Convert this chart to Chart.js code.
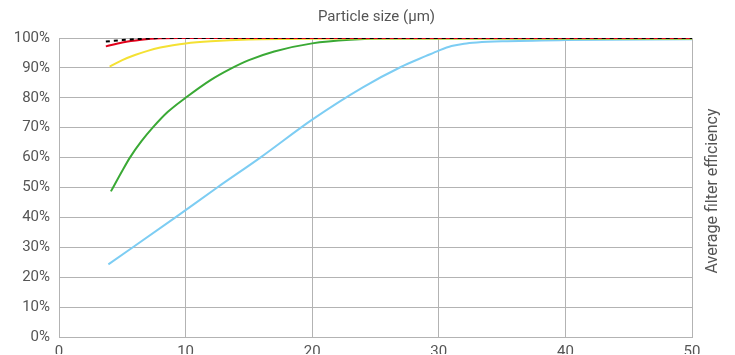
<!DOCTYPE html>
<html>
<head>
<meta charset="utf-8">
<script src="https://cdn.jsdelivr.net/npm/chart.js@4"></script>
<style>
  html, body { margin: 0; padding: 0; background: #fff; overflow: hidden; }
  #wrap { width: 735px; height: 355px; }
</style>
</head>
<body>
<div id="wrap"><canvas id="myChart"></canvas></div>
<script>
const xTitle = 'Particle size (µm)';
const yTitle = 'Average filter efficiency';

// each series as [particle size, efficiency %]
const blackX = [3.7, 5, 6.5, 8, 50];
const blackY = [98.8, 99.3, 99.7, 100, 100];
const redX = [3.7, 5, 6.5, 8, 9.5, 50];
const redY = [97.2, 98.5, 99.4, 99.9, 100, 100];
const yellowX = [4, 5, 6, 7, 8, 9, 10, 12, 15, 18, 22, 50];
const yellowY = [90.4, 92.6, 94.3, 95.7, 96.8, 97.6, 98.2, 98.9, 99.5, 99.7, 99.8, 99.8];
const greenX = [4.1, 5, 5.6, 6.5, 7.4, 8.6, 10, 12, 13.5, 15, 17, 20, 23, 26, 50];
const greenY = [48.7, 55.6, 60, 65.4, 70, 75.3, 80, 86, 89.6, 92.6, 95.5, 98.2, 99.4, 99.8, 99.8];
const blueX = [3.9, 9.2, 12.5, 15.9, 20, 24, 27, 29, 30, 31, 32, 33, 35, 40, 50];
const blueY = [24.3, 40, 50, 60, 72.7, 83.5, 90.3, 94, 95.8, 97.3, 98.1, 98.5, 98.9, 99.3, 99.6];

const xTicks = [0, 10, 20, 30, 40, 50];

function pts(xs, ys) {
  return xs.map((x, i) => ({ x: x, y: ys[i] }));
}

const titles = {
  id: 'titles',
  afterDraw(chart) {
    const c = chart.ctx;
    const a = chart.chartArea;
    c.save();
    c.fillStyle = '#555';
    c.font = '15px Roboto';
    c.textAlign = 'center';
    c.textBaseline = 'middle';
    c.fillText(xTitle, (a.left + a.right) / 2 + 1, 17);
    c.translate(713, 191);
    c.rotate(-Math.PI / 2);
    c.font = '16px Roboto';
    c.fillText(yTitle, 0, 0);
    c.restore();
  }
};

const ctx = document.getElementById('myChart').getContext('2d');
const myChart = new Chart(ctx, {
  type: 'line',
  data: {
    datasets: [
      { data: pts(blackX, blackY), borderColor: '#000', borderDash: [4, 4], borderWidth: 2 },
      { data: pts(redX, redY), borderColor: '#e1001a', borderWidth: 2 },
      { data: pts(yellowX, yellowY), borderColor: '#f4e133', borderWidth: 2 },
      { data: pts(greenX, greenY), borderColor: '#3aa935', borderWidth: 2 },
      { data: pts(blueX, blueY), borderColor: '#7dcdf3', borderWidth: 2 },
    ],
  },
  options: {
    responsive: true,
    maintainAspectRatio: false,
    animation: false,
    layout: { padding: { top: 38, right: 43 } },
    elements: {
      point: { radius: 0 },
      line: { cubicInterpolationMode: 'monotone', fill: false },
    },
    plugins: { legend: { display: false }, tooltip: { enabled: false } },
    scales: {
      x: {
        type: 'linear',
        min: 0,
        max: 50,
        afterBuildTicks: (s) => { s.ticks = xTicks.map((v) => ({ value: v })); },
        afterFit: (s) => { s.height = 17; },
        grid: { color: '#b3b3b3', drawTicks: false },
        border: { color: '#b3b3b3' },
        ticks: { color: '#555', font: { family: 'Roboto', size: 15 }, padding: 6, maxRotation: 0 },
      },
      y: {
        min: 0,
        max: 100,
        afterFit: (s) => { s.width = 59; },
        grid: { color: '#b3b3b3', drawTicks: false },
        border: { color: '#b3b3b3' },
        ticks: {
          stepSize: 10,
          color: '#555',
          font: { family: 'Roboto', size: 15 },
          padding: 9,
          callback: (v) => v + '%',
        },
      },
    },
  },
  plugins: [titles],
});
</script>
</body>
</html>
